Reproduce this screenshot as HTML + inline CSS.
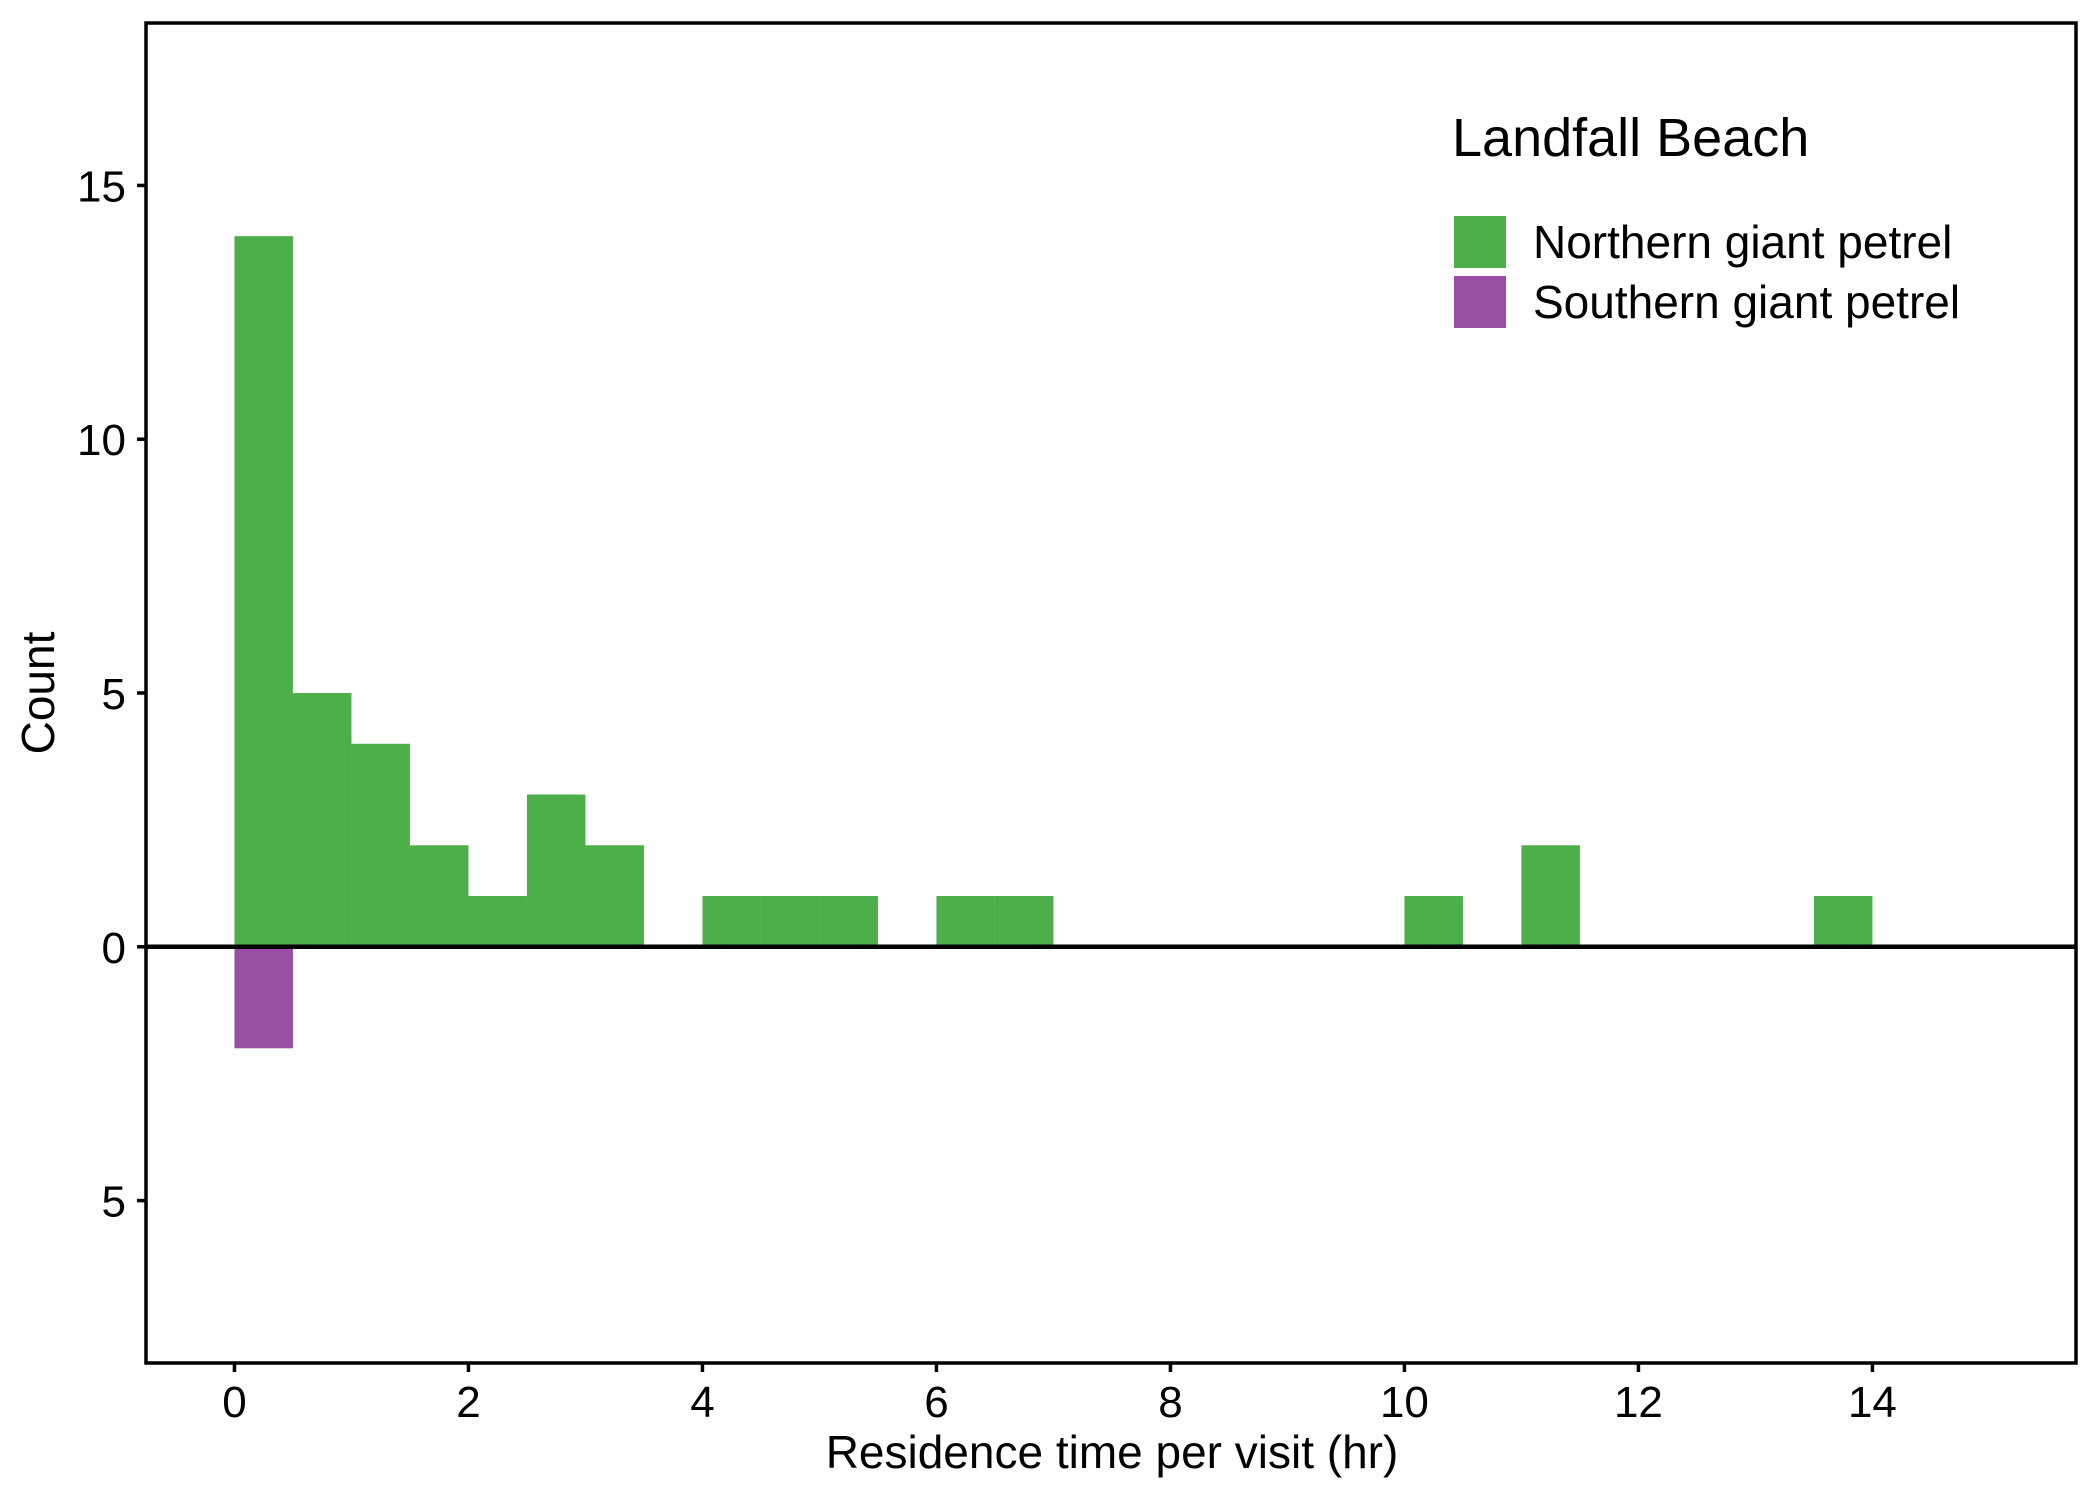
<!DOCTYPE html>
<html><head><meta charset="utf-8"><style>
body{margin:0;background:#fff}
svg{display:block;font-family:"Liberation Sans",Arial,sans-serif}
</style></head><body>
<svg id="chart" width="2100" height="1500" viewBox="0 0 2100 1500" xmlns="http://www.w3.org/2000/svg">
<rect width="2100" height="1500" fill="#fff"/>
<g id="bars"></g>
<g id="axes"></g>
<g>
<text x="1452" y="156" font-size="54">Landfall Beach</text>
<rect x="1454" y="216" width="52" height="52" fill="#4daf4a"/>
<text x="1533" y="258" font-size="46">Northern giant petrel</text>
<rect x="1454" y="276" width="52" height="52" fill="#984ea3"/>
<text x="1533" y="318" font-size="46">Southern giant petrel</text>
</g>
<text x="1112" y="1468" font-size="46" text-anchor="middle">Residence time per visit (hr)</text>
<text transform="translate(54,693) rotate(-90)" font-size="46" text-anchor="middle">Count</text>
</svg>
<script>
const binStarts=[0,0.5,1,1.5,2,2.5,3,3.5,4,4.5,5,5.5,6,6.5,7,7.5,8,8.5,9,9.5,10,10.5,11,11.5,12,12.5,13,13.5];
const northern=[14,5,4,2,1,3,2,0,1,1,1,0,1,1,0,0,0,0,0,0,1,0,2,0,0,0,0,1];
const southern=[2,0,0,0,0,0,0,0,0,0,0,0,0,0,0,0,0,0,0,0,0,0,0,0,0,0,0,0];
const binWidth=0.5;
const xTicks=[0,2,4,6,8,10,12,14];
const yTicks=[-5,0,5,10,15];
const yTickLabels=["5","0","5","10","15"];
const X0=146,X1=2076,Y0=23,Y1=1363;
const xmin=-0.756,xmax=15.74,ymin=-8.2,ymax=18.2;
const sx=v=>X0+(v-xmin)/(xmax-xmin)*(X1-X0);
const sy=v=>Y1-(v-ymin)/(ymax-ymin)*(Y1-Y0);
const NS="http://www.w3.org/2000/svg";
const bars=document.getElementById('bars'),axes=document.getElementById('axes');
function mk(tag,attrs,parent){const e=document.createElementNS(NS,tag);for(const k in attrs)e.setAttribute(k,attrs[k]);parent.appendChild(e);return e;}
binStarts.forEach((b,i)=>{
 if(northern[i]>0){const r=mk('rect',{x:sx(b),y:sy(northern[i]),width:sx(b+binWidth)-sx(b),height:sy(0)-sy(northern[i]),fill:'#4daf4a'},bars);
 
 }
 if(southern[i]>0){const r=mk('rect',{x:sx(b),y:sy(0),width:sx(b+binWidth)-sx(b),height:sy(-southern[i])-sy(0),fill:'#984ea3'},bars);
 
 }
});
const zl=mk('line',{x1:X0,x2:X1,y1:sy(0),y2:sy(0),stroke:'#000','stroke-width':4.5},axes);


const fr=mk('rect',{x:X0,y:Y0,width:X1-X0,height:Y1-Y0,fill:'none',stroke:'#000','stroke-width':3.5},axes);


xTicks.forEach(t=>{
 const l=mk('line',{x1:sx(t),x2:sx(t),y1:Y1,y2:Y1+9,stroke:'#000','stroke-width':3.5},axes);
 
 
 const tx=mk('text',{x:sx(t),y:Y1+54,'font-size':44,'text-anchor':'middle',fill:'#000'},axes);
 tx.textContent=t;
 
 
});
yTicks.forEach((t,i)=>{
 const l=mk('line',{x1:X0-9,x2:X0,y1:sy(t),y2:sy(t),stroke:'#000','stroke-width':3.5},axes);
 
 
 const tx=mk('text',{x:X0-20,y:sy(t)+16,'font-size':44,'text-anchor':'end',fill:'#000'},axes);
 tx.textContent=yTickLabels[i];
 
 
});
</script>
</body></html>
